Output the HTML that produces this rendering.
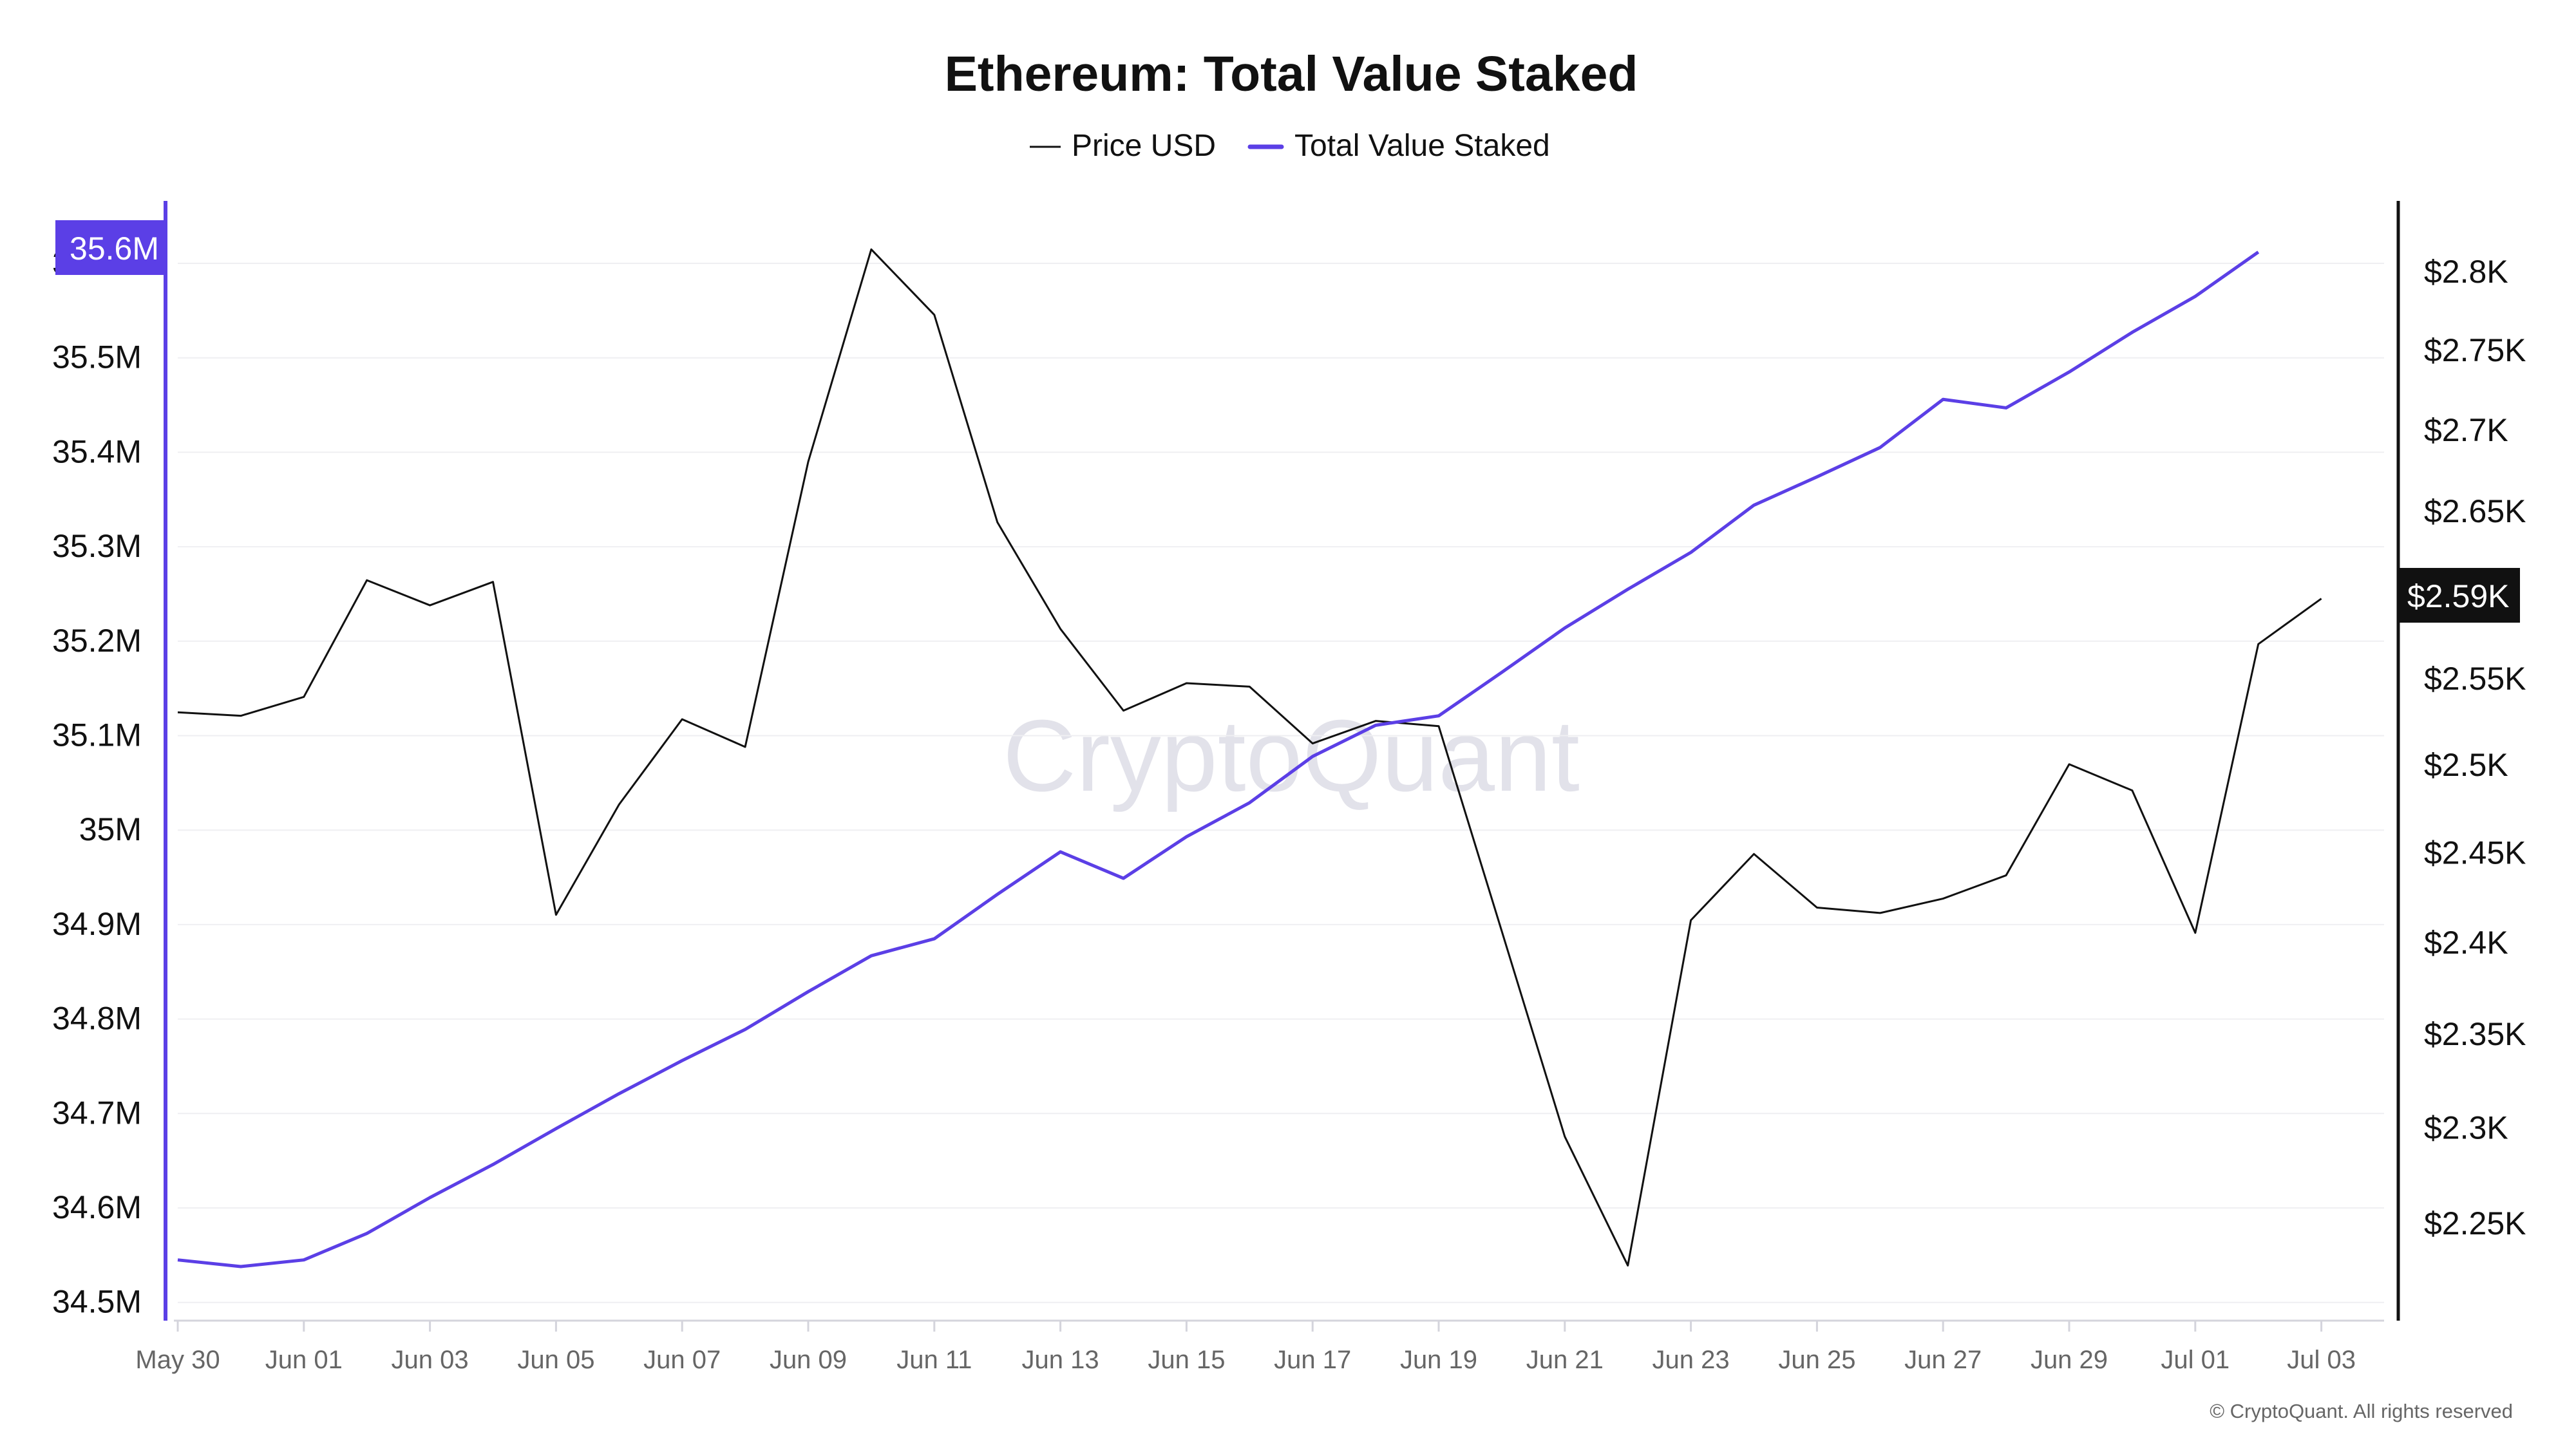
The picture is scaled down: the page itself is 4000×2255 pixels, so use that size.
<!DOCTYPE html>
<html><head><meta charset="utf-8"><style>
html,body{margin:0;padding:0;background:#fff;}
body{width:4000px;height:2250px;overflow:hidden;font-family:"Liberation Sans",sans-serif;}
</style></head><body>
<svg id="chart" width="4000" height="2250" xmlns="http://www.w3.org/2000/svg" font-family="Liberation Sans, sans-serif">
<text x="2005" y="141" text-anchor="middle" font-size="77" font-weight="bold" fill="#111">Ethereum: Total Value Staked</text>
<g>
<g><line x1="1599" y1="228" x2="1647" y2="228" stroke="#111" stroke-width="3"/><text x="1664" y="242" font-size="48" fill="#111">Price USD</text></g>
<g><line x1="1941" y1="228" x2="1990" y2="228" stroke="#5b3fe6" stroke-width="7" stroke-linecap="round"/><text x="2010" y="242" font-size="48" fill="#111">Total Value Staked</text></g>
</g>
<text x="2005" y="1228" text-anchor="middle" font-size="158" fill="#e2e2ea">CryptoQuant</text>
<g id="grid"></g><g id="xaxis"></g><g id="laxis"></g><g id="raxis"></g><g id="series"></g>
<text x="3902" y="2202" text-anchor="end" font-size="31" fill="#666">© CryptoQuant. All rights reserved</text>
</svg>
<script>
const dateLabels=["May 30","Jun 01","Jun 03","Jun 05","Jun 07","Jun 09","Jun 11","Jun 13","Jun 15","Jun 17","Jun 19","Jun 21","Jun 23","Jun 25","Jun 27","Jun 29","Jul 01","Jul 03"];
const priceValues=[2.530,2.528,2.539,2.608,2.593,2.607,2.415,2.477,2.526,2.510,2.680,2.814,2.772,2.643,2.579,2.531,2.547,2.545,2.512,2.525,2.522,2.406,2.295,2.228,2.412,2.449,2.419,2.416,2.424,2.437,2.500,2.485,2.405,2.570,2.597];
const tvsValues=[34.545,34.538,34.545,34.573,34.611,34.646,34.684,34.721,34.756,34.789,34.829,34.867,34.885,34.932,34.977,34.949,34.993,35.029,35.078,35.111,35.121,35.167,35.214,35.255,35.294,35.344,35.374,35.405,35.456,35.447,35.485,35.527,35.565,35.612];
const leftTicks=[34.5,34.6,34.7,34.8,34.9,35.0,35.1,35.2,35.3,35.4,35.5,35.6];
const leftTickLabels=["34.5M","34.6M","34.7M","34.8M","34.9M","35M","35.1M","35.2M","35.3M","35.4M","35.5M","35.6M"];
const rightTicks=[2.25,2.3,2.35,2.4,2.45,2.5,2.55,2.65,2.7,2.75,2.8];
const rightTickLabels=["$2.25K","$2.3K","$2.35K","$2.4K","$2.45K","$2.5K","$2.55K","$2.65K","$2.7K","$2.75K","$2.8K"];
const lastPriceLabel="$2.59K", lastTvsLabel="35.6M";

const NS="http://www.w3.org/2000/svg";
function mk(tag,attrs,parent){const e=document.createElementNS(NS,tag);for(const k in attrs)e.setAttribute(k,attrs[k]);parent.appendChild(e);return e;}
const X0=276,DAY=97.9;
const xs=i=>X0+i*DAY;
const yL=v=>409+(35.6-v)*1467;
const LN28=Math.log(2.8),LNR=Math.log(2.8)-Math.log(2.25);
const yR=p=>421+(LN28-Math.log(p))/LNR*1478;

const grid=document.getElementById('grid');
leftTicks.forEach(v=>{const l=mk('line',{x1:276,x2:3702,y1:yL(v),y2:yL(v),stroke:'#efeff2','stroke-width':2},grid);

});

const xa=document.getElementById('xaxis');
const base=mk('line',{x1:270,x2:3702,y1:2051,y2:2051,stroke:'#d4d4dc','stroke-width':3},xa);


dateLabels.forEach((d,k)=>{const x=xs(k*2);
const t=mk('line',{x1:x,x2:x,y1:2051,y2:2068,stroke:'#d4d4dc','stroke-width':3},xa);


const tx=mk('text',{x:x,y:2125,'text-anchor':'middle','font-size':40,fill:'#666'},xa);tx.textContent=d;

});

const la=document.getElementById('laxis');
const lline=mk('line',{x1:257,x2:257,y1:312,y2:2051,stroke:'#5b3fe6','stroke-width':6},la);


leftTicks.forEach((v,i)=>{const tx=mk('text',{x:220,y:yL(v)+16,'text-anchor':'end','font-size':50,fill:'#111'},la);tx.textContent=leftTickLabels[i];

});
const lb=mk('rect',{x:86,y:342,width:172,height:85,fill:'#5b3fe6'},la);


const lbt=mk('text',{x:247,y:403,'text-anchor':'end','font-size':50,fill:'#fff'},la);lbt.textContent=lastTvsLabel;



const ra=document.getElementById('raxis');
const rline=mk('line',{x1:3724,x2:3724,y1:312,y2:2051,stroke:'#111','stroke-width':5},ra);


rightTicks.forEach((p,i)=>{const tx=mk('text',{x:3764,y:yR(p)+18,'font-size':50,fill:'#111'},ra);tx.textContent=rightTickLabels[i];

});
const rb=mk('rect',{x:3722,y:882,width:191,height:85,fill:'#111'},ra);


const rbt=mk('text',{x:3738,y:943,'font-size':50,fill:'#fff'},ra);rbt.textContent=lastPriceLabel;



const sr=document.getElementById('series');
const pp=mk('polyline',{points:priceValues.map((v,i)=>xs(i)+','+yR(v)).join(' '),fill:'none',stroke:'#111','stroke-width':3,'stroke-linejoin':'round'},sr);


const tp=mk('polyline',{points:tvsValues.map((v,i)=>xs(i)+','+yL(v)).join(' '),fill:'none',stroke:'#5b3fe6','stroke-width':5,'stroke-linejoin':'round'},sr);


</script>
</body></html>
